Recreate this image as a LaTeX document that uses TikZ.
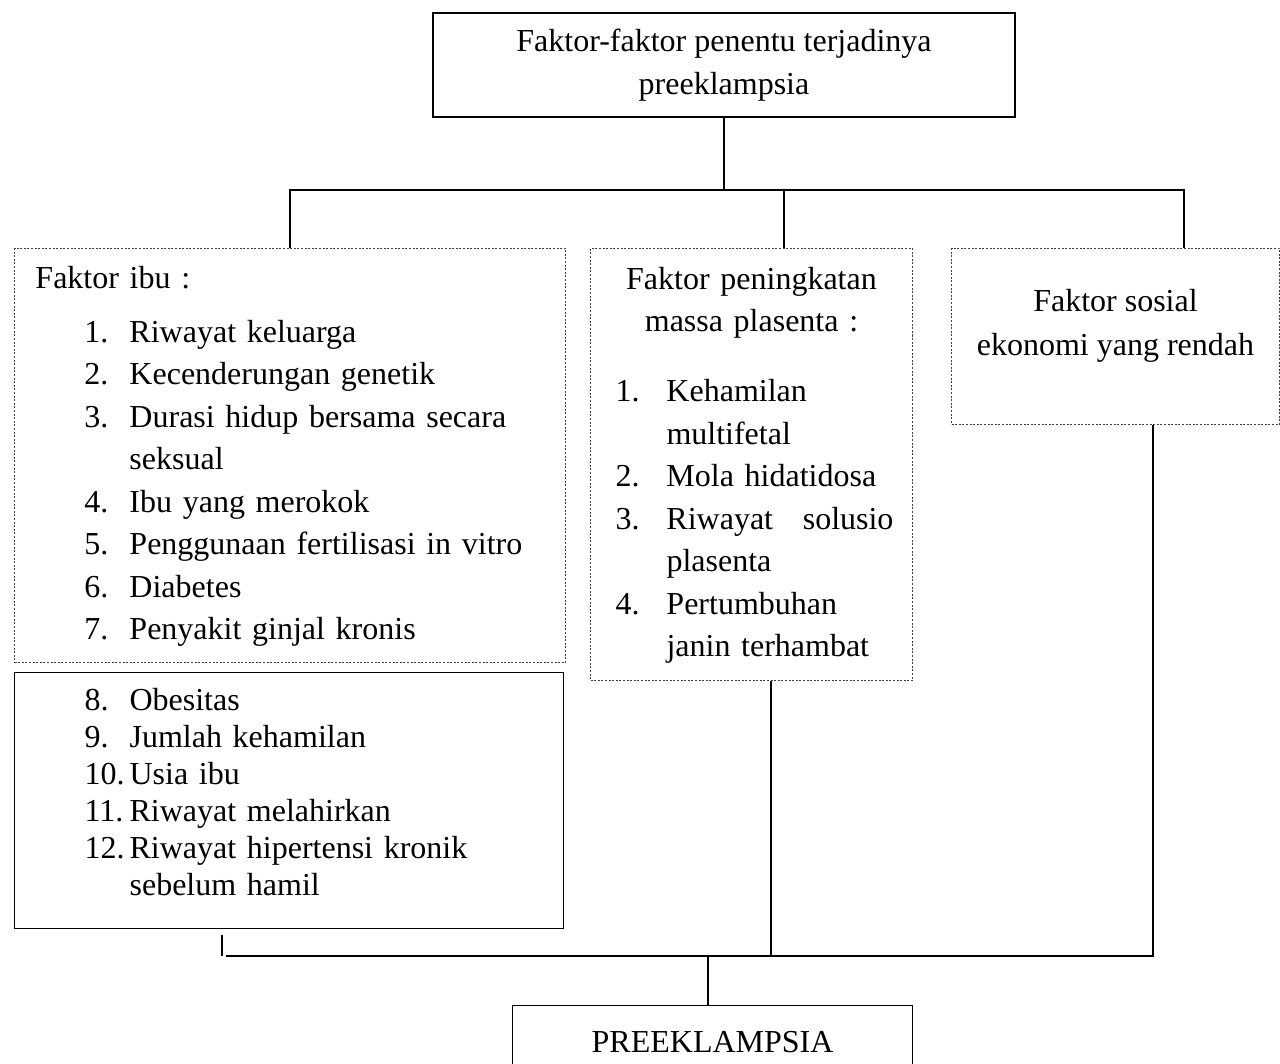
\documentclass[tikz,border=0pt]{standalone}
\usepackage{fontspec}
\setmainfont{Liberation Serif}
\usepackage{array}
\usetikzlibrary{positioning,calc}

\begin{document}
\begin{tikzpicture}[
    x=1pt, y=-1pt,
    font=\fontsize{32}{42.5}\selectfont,
    box/.style={draw, line width=1.2pt, inner sep=0pt, align=center},
    dotbox/.style={box, draw=black!75, line width=1pt, dash pattern=on 2pt off 1.6pt},
    link/.style={line width=2pt}]

  \useasboundingbox (0,0) rectangle (1280,1064);

  % top of the tree
  \node[box, minimum width=582pt, minimum height=104pt] (topbox) at (724,65)
    {Faktor-faktor penentu terjadinya\\preeklampsia};

  % three groups of factors
  \node[dotbox, anchor=north west, inner xsep=16pt, text width=519pt,
        minimum height=414pt, align=left] (ibu1) at (14,248)
    {\begin{tabular}{@{\hspace{5pt}}p{49pt}@{}p{45pt}@{}l@{}}
       \multicolumn{3}{@{\hspace{5pt}}l@{}}{Faktor ibu :}\\[11.5pt]
       & 1. & Riwayat keluarga\\
       & 2. & Kecenderungan genetik\\
       & 3. & Durasi hidup bersama secara\\
       &    & seksual\\
       & 4. & Ibu yang merokok\\
       & 5. & Penggunaan fertilisasi in vitro\\
       & 6. & Diabetes\\
       & 7. & Penyakit ginjal kronis
     \end{tabular}};

  \node[box, anchor=north west, inner xsep=16pt, text width=517pt,
        minimum height=256pt, align=left] (ibu2) at (14,672)
    {\fontsize{32}{37}\selectfont
     \begin{tabular}{@{\hspace{5pt}}p{49pt}@{}p{45pt}@{}l@{}}
       & 8.  & Obesitas\\
       & 9.  & Jumlah kehamilan\\
       & 10. & Usia ibu\\
       & 11. & Riwayat melahirkan\\
       & 12. & Riwayat hipertensi kronik\\
       &     & sebelum hamil\rule[-21pt]{0pt}{21pt}
     \end{tabular}};

  \node[dotbox, anchor=north west, inner xsep=19pt, text width=284pt,
        minimum height=432pt, align=left] (plasenta) at (590,248)
    {\begin{tabular}{@{\hspace{6pt}}p{51pt}@{}p{227pt}@{}}
       \multicolumn{2}{@{}c@{}}{Faktor peningkatan}\\
       \multicolumn{2}{@{}c@{}}{massa plasenta :}\\[27.5pt]
       1. & Kehamilan\\
          & multifetal\\
       2. & Mola hidatidosa\\
       3. & Riwayat\hfill solusio\\
          & plasenta\\
       4. & Pertumbuhan\\
          & janin terhambat
     \end{tabular}};

  \node[dotbox, anchor=north west, minimum width=328pt, minimum height=176pt,
        font=\fontsize{32}{44}\selectfont] (sosial) at (951,248)
    {Faktor sosial\\ekonomi yang rendah\rule[-29pt]{0pt}{29pt}};

  % result
  \node[box, anchor=north west, minimum width=400pt, minimum height=72pt] (preek)
    at (512,1005) {PREEKLAMPSIA};

  % branching lines above
  \draw[link] (topbox.south) -- ++(0,73);
  \draw[link] (ibu1.north) -- ++(0,-58) -| ([xshift=68pt]sosial.north);
  \draw[link] ([xshift=32pt]plasenta.north) -- ++(0,-58);

  % joining lines below
  \draw[link, shorten <=6pt] ([xshift=-67.5pt]ibu2.south) -- ++(0,27)
    coordinate (joinL);
  \draw[link, shorten <=4pt] (joinL) -| ([xshift=37pt]sosial.south);
  \draw[link] ([xshift=19pt]plasenta.south) -- ([xshift=19pt]plasenta.south |- joinL);
  \draw[link] ([xshift=-5pt]preek.north) -- ([xshift=-5pt]preek.north |- joinL);
\end{tikzpicture}
\end{document}
